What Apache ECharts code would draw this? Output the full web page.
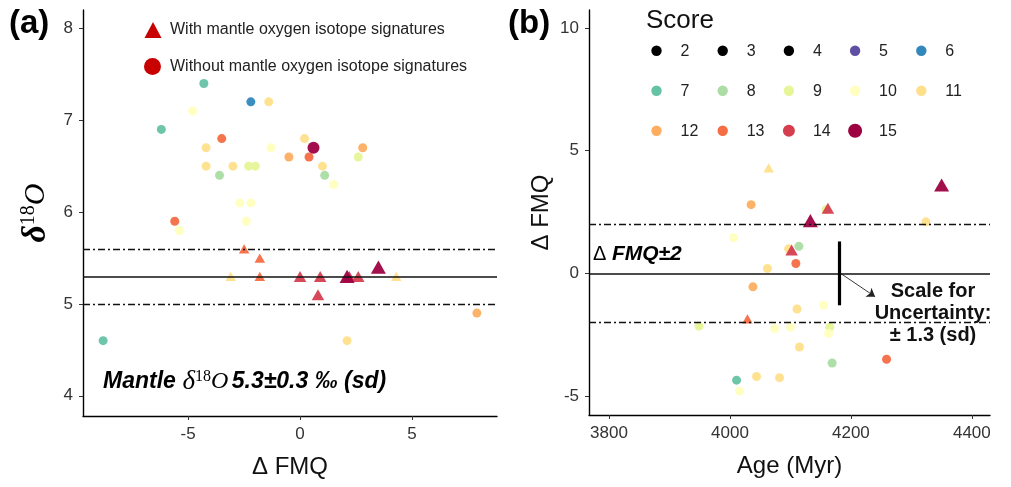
<!DOCTYPE html>
<html>
<head>
<meta charset="utf-8">
<script src="https://cdn.jsdelivr.net/npm/echarts@6/dist/echarts.min.js"></script>
<style>
  html, body { margin: 0; padding: 0; background: #fff; }
  #chart { width: 1011px; height: 487px; }
</style>
</head>
<body>
<div id="chart"></div>
<script>
// score colour scale (Spectral)
const scoreList = [2, 3, 4, 5, 6, 7, 8, 9, 10, 11, 12, 13, 14, 15]
const scoreColors = ['#000000', '#000000', '#000000', '#5E4FA2', '#3288BD', '#66C2A5', '#ABDDA4',
  '#E6F598', '#FFFFBF', '#FEE08B', '#FDAE61', '#F46D43', '#D53E4F', '#9E0142']

// panel (a): delta FMQ vs d18O, circles = without mantle signature
const aCircFmq = [-4.3, -2.2, -1.4, -4.8, -6.2, -3.5, -4.2, -1.3, 0.2, 0.6, 2.8, -0.5, 0.4, 2.6, -4.2,
  -3.0, -2.3, -2.0, 1.0, -3.6, 1.1, 1.5, -2.7, -2.2, -2.4, -5.6, -5.4, 7.9, -8.8, 2.1]
const aCircD18O = [7.4, 7.2, 7.2, 7.1, 6.9, 6.8, 6.7, 6.7, 6.8, 6.7, 6.7, 6.6, 6.6, 6.6, 6.5,
  6.5, 6.5, 6.5, 6.5, 6.4, 6.4, 6.3, 6.1, 6.1, 5.9, 5.9, 5.8, 4.9, 4.6, 4.6]
const aCircScore = [7, 6, 11, 10, 7, 13, 11, 10, 11, 15, 12, 12, 13, 9, 11,
  11, 9, 9, 11, 8, 8, 10, 10, 10, 10, 13, 10, 12, 7, 11]
// triangles = with mantle signature
const aTriFmq = [-2.5, -1.8, -3.1, -1.8, 0.0, 0.9, 2.2, 2.1, 2.6, 3.5, 4.3, 0.8]
const aTriD18O = [5.6, 5.5, 5.3, 5.3, 5.3, 5.3, 5.3, 5.3, 5.3, 5.4, 5.3, 5.1]
const aTriScore = [13, 13, 11, 13, 14, 14, 14, 15, 14, 15, 11, 14]

// panel (b): age vs delta FMQ
const bCircAge = [4035, 4324, 4006, 4114, 4097, 4062, 4109, 4038, 4155, 4111, 3949, 4074,
  4100, 4165, 4163, 4115, 4259, 4169, 4011, 4044, 4082, 4016, 4159]
const bCircFmq = [2.8, 2.1, 1.45, 1.1, 1.0, 0.2, 0.4, -0.55, -1.3, -1.45, -2.15, -2.25,
  -2.2, -2.2, -2.45, -3.0, -3.5, -3.65, -4.35, -4.2, -4.25, -4.8, 2.6]
const bCircScore = [12, 11, 10, 8, 11, 11, 13, 12, 10, 11, 9, 10,
  10, 9, 10, 11, 13, 8, 7, 11, 11, 10, 9]
const bTriAge = [4064, 4350, 4162, 4133, 4102, 4029]
const bTriFmq = [4.3, 3.6, 2.65, 2.15, 0.95, -1.85]
const bTriScore = [11, 15, 14, 15, 14, 13]

// reference lines
const aMantle = 5.3
const aMantleSd = 0.3
const bFmqBand = 2
const bUncert = 1.3
const bUncertAge = 4181

const aXTicks = [-5, 0, 5]
const aYTicks = [4, 5, 6, 7, 8]
const bXTicks = [3800, 4000, 4200, 4400]
const bYTicks = [-5, 0, 5, 10]

const SANS = 'Liberation Sans, Arial, sans-serif'
const SERIF = 'Liberation Serif, DejaVu Serif, serif'
const dashDot = [7, 3, 2, 3]

function colorOf (s) {
  return scoreColors[scoreList.indexOf(s)]
}
function circSize (s) {
  return s >= 15 ? 12 : (s >= 14 ? 10.5 : 9)
}
function triSize (s) {
  let w = s >= 15 ? 15 : (s >= 14 ? 12.5 : 10.5)
  return [w, w * 0.88]
}
function points (xs, ys, ss) {
  let out = xs.map((x, i) => ({ value: [x, ys[i]], score: ss[i] }))
  out.sort((a, b) => a.score - b.score)
  return out
}

function axisBase (ticks, min, max) {
  return {
    type: 'value',
    min: min,
    max: max,
    axisLine: { onZero: false, lineStyle: { color: '#000', width: 1.4 } },
    axisTick: { length: 4, customValues: ticks, lineStyle: { color: '#333' } },
    axisLabel: {
      customValues: ticks,
      fontSize: 17,
      color: '#333',
      fontFamily: SANS,
      margin: 10,
      formatter: v => String(v)
    },
    splitLine: { show: false },
    nameLocation: 'middle',
    nameTextStyle: { fontSize: 24, color: '#111', fontFamily: SANS }
  }
}

function scatterSeries (idx, data, tri, z) {
  return {
    type: 'scatter',
    xAxisIndex: idx,
    yAxisIndex: idx,
    z: z,
    symbol: tri ? 'triangle' : 'circle',
    symbolSize: (val, p) => tri ? triSize(p.data.score) : circSize(p.data.score),
    itemStyle: { color: p => colorOf(p.data.score), opacity: 0.95 },
    data: data,
    silent: true
  }
}

function hLines (idx, center, half) {
  return {
    type: 'scatter',
    xAxisIndex: idx,
    yAxisIndex: idx,
    z: 1,
    data: [],
    markLine: {
      silent: true,
      symbol: 'none',
      label: { show: false },
      lineStyle: { color: '#111', width: 1.3, type: dashDot },
      data: [
        { yAxis: center, lineStyle: { type: 'solid', color: '#111', width: 1.5 } },
        { yAxis: center + half },
        { yAxis: center - half }
      ]
    }
  }
}

// legend graphics
let graphics = []
graphics.push({ type: 'text', x: 9, y: 24, style: { text: '(a)', font: 'bold 33px ' + SANS, fill: '#000', verticalAlign: 'middle', textVerticalAlign: 'middle' } })
graphics.push({ type: 'text', x: 508, y: 24, style: { text: '(b)', font: 'bold 33px ' + SANS, fill: '#000', verticalAlign: 'middle', textVerticalAlign: 'middle' } })

// panel (a) shape legend
graphics.push({ type: 'polygon', shape: { points: [[153, 22], [144.5, 38], [161.5, 38]] }, style: { fill: '#C80000' } })
graphics.push({ type: 'circle', shape: { cx: 152.5, cy: 66.5, r: 8.5 }, style: { fill: '#C80000' } })
graphics.push({ type: 'text', x: 170, y: 30, style: { text: 'With mantle oxygen isotope signatures', font: '16px ' + SANS, fill: '#222', verticalAlign: 'middle', textVerticalAlign: 'middle' } })
graphics.push({ type: 'text', x: 170, y: 66.5, style: { text: 'Without mantle oxygen isotope signatures', font: '16px ' + SANS, fill: '#222', verticalAlign: 'middle', textVerticalAlign: 'middle' } })

// score legend
graphics.push({ type: 'text', x: 646, y: 21, style: { text: 'Score', font: '26px ' + SANS, fill: '#111', verticalAlign: 'middle', textVerticalAlign: 'middle' } })
scoreList.forEach((s, i) => {
  let cx = 656.5 + (i % 5) * 66.2
  let cy = 50.7 + Math.floor(i / 5) * 40
  let r = s >= 15 ? 7 : (s >= 14 ? 6 : 5.2)
  graphics.push({ type: 'circle', shape: { cx: cx, cy: cy, r: r }, style: { fill: colorOf(s) } })
  graphics.push({ type: 'text', x: cx + 24, y: cy + 1, style: { text: String(s), font: '16px ' + SANS, fill: '#222', verticalAlign: 'middle', textVerticalAlign: 'middle' } })
})

// annotations
graphics.push({
  type: 'text', x: 103, y: 382,
  style: {
    text: '{b|Mantle}  {g|δ}{s|18}{o|O} {b|5.3±0.3 ‰ (sd)}',
    verticalAlign: 'middle',
    textVerticalAlign: 'middle',
    fill: '#000',
    rich: {
      b: { font: 'italic bold 23px ' + SANS, fill: '#000' },
      g: { font: 'italic 27px ' + SERIF, fill: '#000' },
      s: { font: '16px ' + SERIF, fill: '#000', verticalAlign: 'top' },
      o: { font: 'italic 24px ' + SERIF, fill: '#000' }
    }
  }
})
graphics.push({
  type: 'text', x: 593, y: 254,
  style: {
    text: '{n|Δ }{b|FMQ±2}',
    verticalAlign: 'middle',
    textVerticalAlign: 'middle',
    rich: {
      n: { font: '20px ' + SANS, fill: '#000' },
      b: { font: 'italic bold 21px ' + SANS, fill: '#000' }
    }
  }
})
graphics.push({
  type: 'text', x: 933, y: 280,
  style: {
    text: 'Scale for\nUncertainty:\n± 1.3 (sd)',
    font: 'bold 20px ' + SANS,
    lineHeight: 22,
    fill: '#111',
    align: 'center',
    textAlign: 'center'
  }
})

let xA = axisBase(aXTicks, -9.7, 8.8)
xA.gridIndex = 0
xA.name = 'Δ FMQ'
xA.nameGap = 39
let yA = axisBase(aYTicks, 3.78, 8.2)
yA.gridIndex = 0
yA.name = '{g|δ}{s|18}{o|O}'
yA.nameGap = 30
yA.nameTextStyle = {
  rich: {
    g: { fontFamily: SERIF, fontStyle: 'italic', fontWeight: 'bold', fontSize: 34, color: '#000' },
    s: { fontFamily: SERIF, fontSize: 20, color: '#000', verticalAlign: 'top' },
    o: { fontFamily: SERIF, fontStyle: 'italic', fontSize: 30, color: '#000' }
  }
}

let xB = axisBase(bXTicks, 3767, 4430)
xB.gridIndex = 1
xB.name = 'Age (Myr)'
xB.nameGap = 39
let yB = axisBase(bYTicks, -5.77, 10.73)
yB.gridIndex = 1
yB.name = 'Δ FMQ'
yB.nameGap = 36

const option = {
  backgroundColor: '#fff',
  animation: false,
  grid: [
    { left: 83, right: 514, top: 10, bottom: 71 },
    { left: 589, right: 21, top: 10, bottom: 72 }
  ],
  xAxis: [xA, xB],
  yAxis: [yA, yB],
  graphic: graphics,
  series: [
    hLines(0, aMantle, aMantleSd),
    hLines(1, 0, bFmqBand),
    {
      type: 'scatter',
      xAxisIndex: 1,
      yAxisIndex: 1,
      z: 4,
      data: [],
      markLine: {
        silent: true,
        symbol: 'none',
        label: { show: false },
        lineStyle: { color: '#000', width: 3.2, type: 'solid' },
        data: [[{ coord: [bUncertAge, -bUncert] }, { coord: [bUncertAge, bUncert] }]]
      }
    },
    {
      type: 'scatter',
      xAxisIndex: 1,
      yAxisIndex: 1,
      z: 4,
      data: [],
      markLine: {
        silent: true,
        symbol: ['none', 'arrow'],
        symbolSize: 8,
        label: { show: false },
        lineStyle: { color: '#222', width: 0.9, type: 'solid' },
        data: [[{ coord: [bUncertAge + 2, 0] }, { coord: [4240, -0.95] }]]
      }
    },
    scatterSeries(0, points(aCircFmq, aCircD18O, aCircScore), false, 2),
    scatterSeries(0, points(aTriFmq, aTriD18O, aTriScore), true, 3),
    scatterSeries(1, points(bCircAge, bCircFmq, bCircScore), false, 2),
    scatterSeries(1, points(bTriAge, bTriFmq, bTriScore), true, 3)
  ]
}

const chart = echarts.init(document.getElementById('chart'))
chart.setOption(option)
</script>
</body>
</html>
